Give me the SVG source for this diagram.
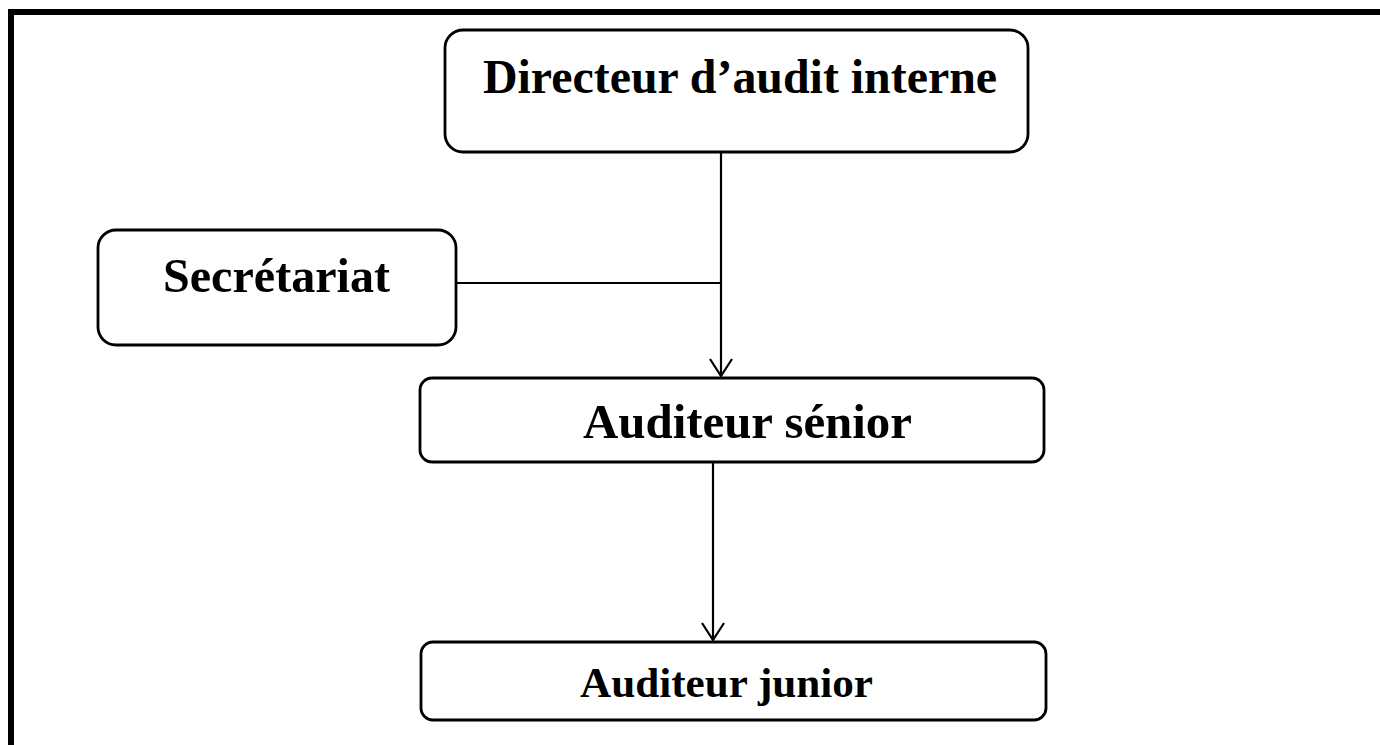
<svg xmlns="http://www.w3.org/2000/svg" width="1380" height="745" viewBox="0 0 1380 745">
<style>
.box{fill:#fff;stroke:#000;stroke-width:2.8}
.lbl{font-family:"Liberation Serif","Times New Roman",serif;font-weight:bold;fill:#000}
.con{stroke:#000;stroke-width:2.2;fill:none}
</style>
<defs>
<marker id="arr" viewBox="0 0 20 24" refX="18" refY="12" markerWidth="20" markerHeight="24" markerUnits="userSpaceOnUse" orient="auto">
<path d="M1,1 L18,12 L1,23" fill="none" stroke="#000" stroke-width="2.2"/>
</marker>
</defs>
<rect width="1380" height="745" fill="#fff"/>
<path d="M11,745 V12 H1380" fill="none" stroke="#000" stroke-width="6"/>
<g id="connectors">
<line class="con" x1="721" y1="152" x2="721" y2="376" marker-end="url(#arr)"/>
<line class="con" x1="456" y1="283" x2="721" y2="283"/>
<line class="con" x1="713" y1="462" x2="713" y2="640" marker-end="url(#arr)"/>
</g>
<g id="directeur">
<rect class="box" x="445" y="30" width="583" height="122" rx="18"/>
<text class="lbl" x="483" y="93" font-size="47.7" textLength="514" lengthAdjust="spacingAndGlyphs">Directeur d’audit interne</text>
</g>
<g id="secretariat">
<rect class="box" x="98" y="230" width="358" height="115" rx="18"/>
<text class="lbl" x="163" y="292" font-size="48" textLength="227" lengthAdjust="spacingAndGlyphs">Secrétariat</text>
</g>
<g id="senior">
<rect class="box" x="420" y="378" width="624" height="84" rx="12"/>
<text class="lbl" x="583" y="438" font-size="48" textLength="329" lengthAdjust="spacingAndGlyphs">Auditeur sénior</text>
</g>
<g id="junior">
<rect class="box" x="421" y="642" width="625" height="78" rx="12"/>
<text class="lbl" x="580" y="697" font-size="43" textLength="293" lengthAdjust="spacingAndGlyphs">Auditeur junior</text>
</g>
</svg>
